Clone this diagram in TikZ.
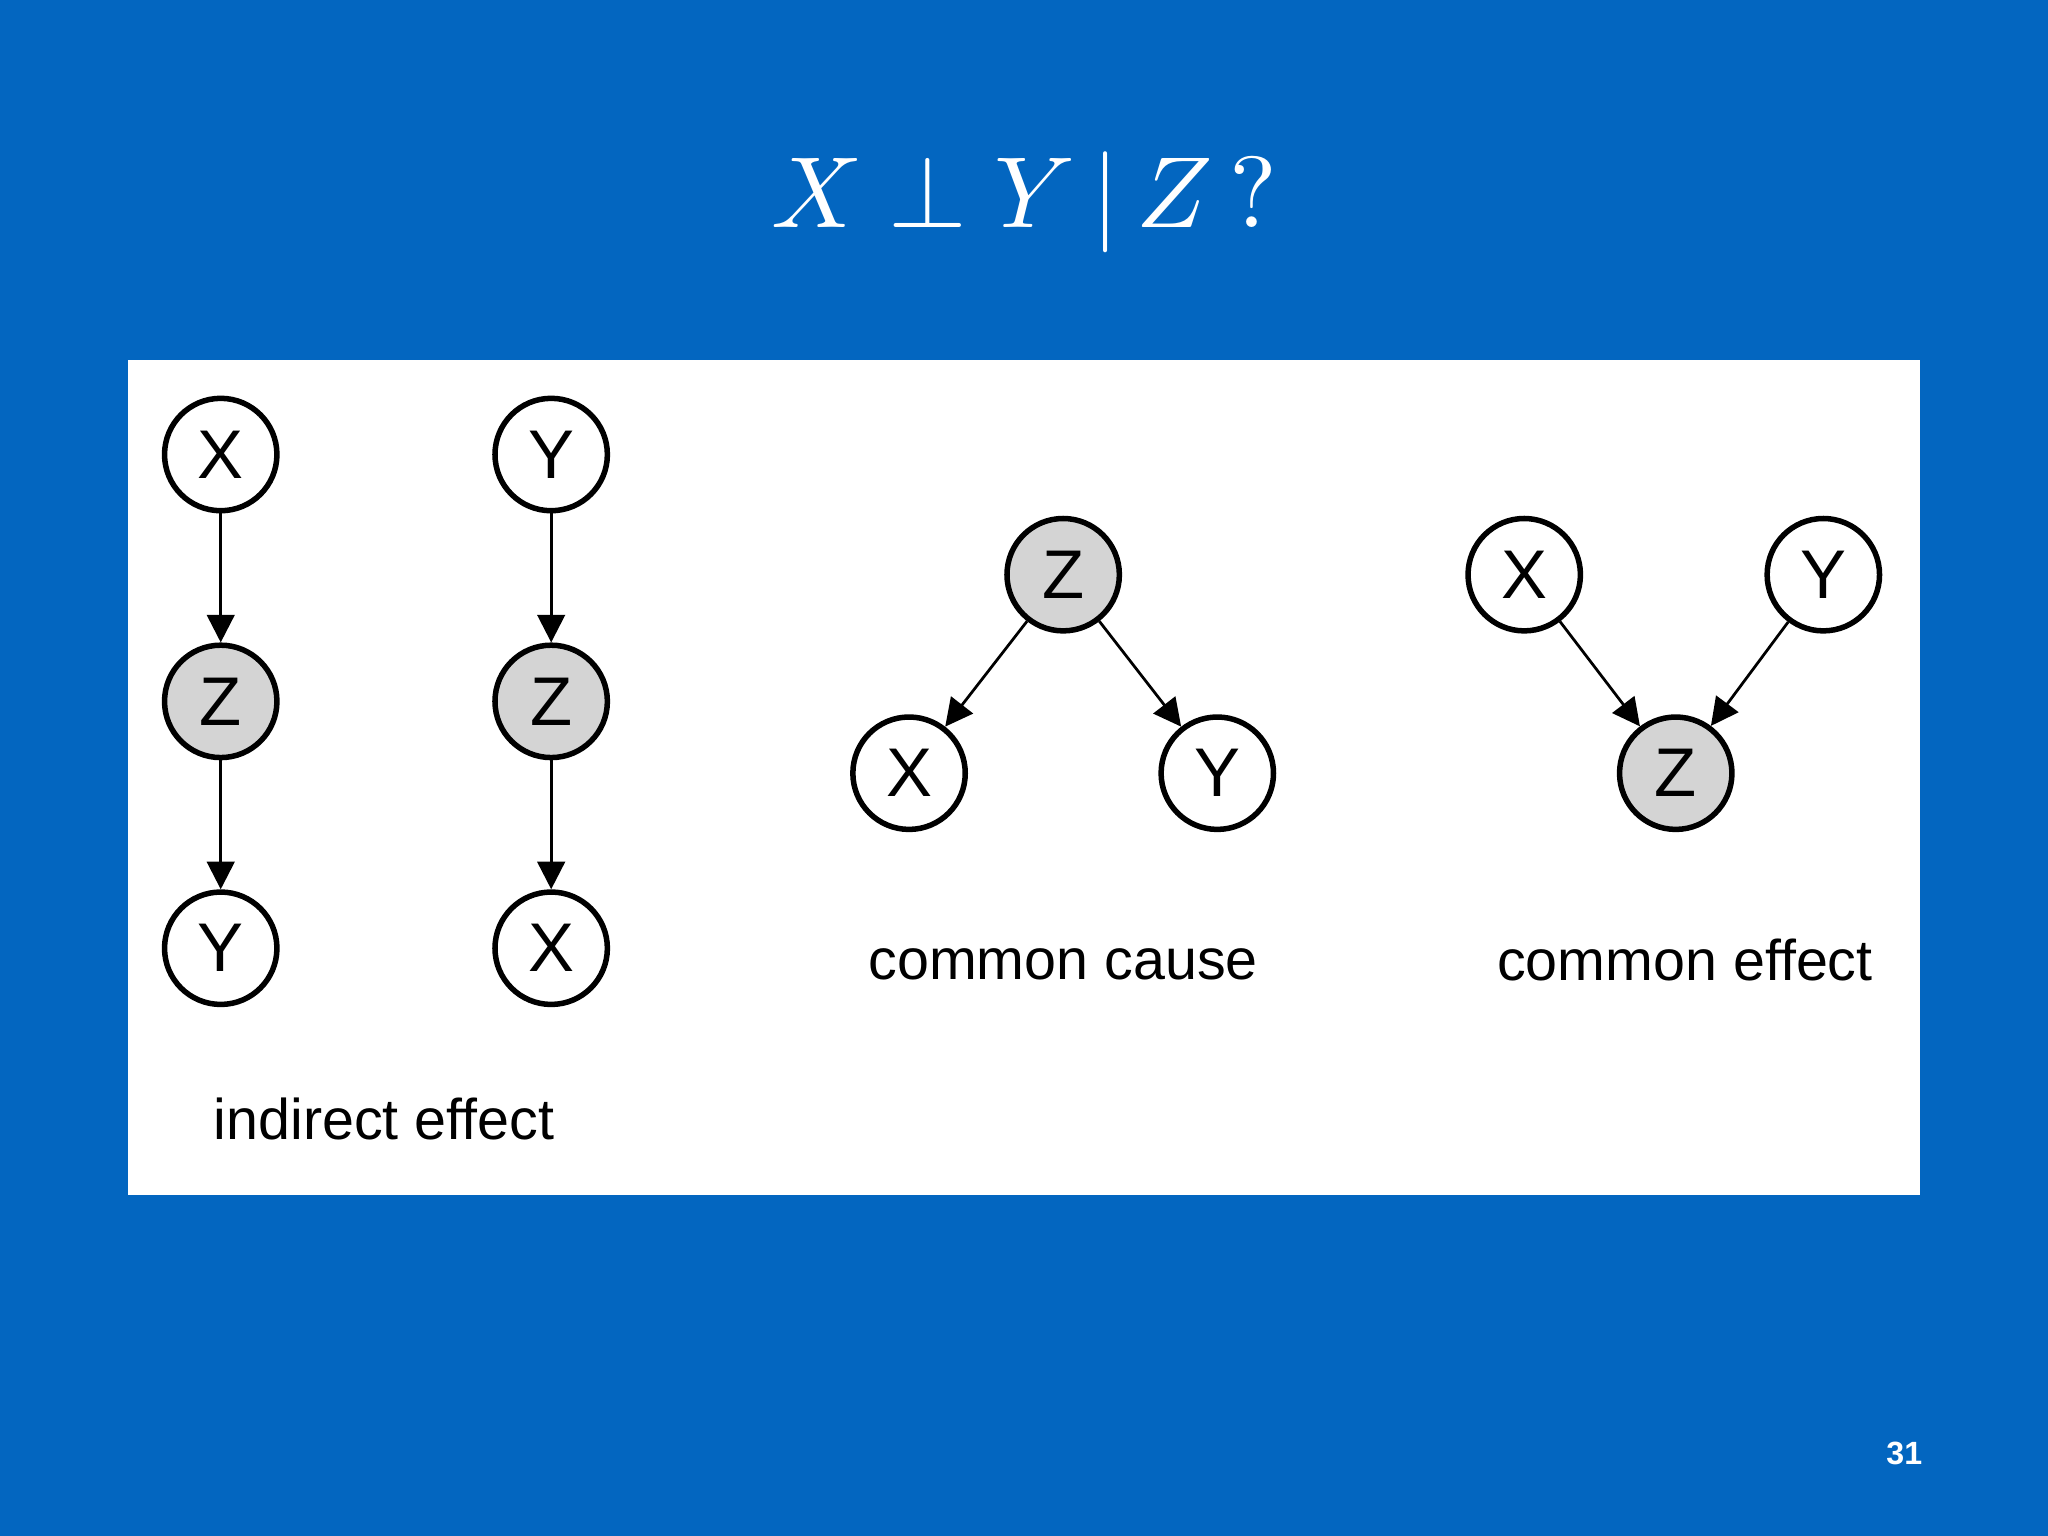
\documentclass[tikz,border=0pt]{standalone}
\usepackage{fontspec}
\setmainfont{Liberation Sans}
\usepackage{unicode-math}
\setmathfont{Latin Modern Math}
\usetikzlibrary{arrows.meta}
\definecolor{bg}{HTML}{0366C0}
\definecolor{zg}{HTML}{D4D4D4}
\tikzset{
 var/.style={circle,draw=black,line width=1.2pt,fill=white,minimum size=0.86cm,inner sep=0pt,font=\fontsize{15}{15}\selectfont},
 obs/.style={var,fill=zg},
 edge/.style={-{Triangle[length=6pt,width=6pt]},line width=0.6pt},
 lab/.style={font=\fontsize{12.5}{14}\selectfont}
}
\begin{document}
\begin{tikzpicture}[x=0.01cm,y=-0.01cm]
\fill[bg] (0,0) rectangle (1568,1176);
\useasboundingbox (0,0) rectangle (1568,1176);
\fill[white] (98,276) rectangle (1470,915);
\node[text=white,font=\fontsize{22}{22}\selectfont] (title) at (784,155) {$X \perp Y \,|\, Z\,?$};
\node[var] (x1) at (169,348) {X};
\node[obs] (z1) at (169,537) {Z};
\node[var] (y1) at (169,726) {Y};
\node[var] (y2) at (422,348) {Y};
\node[obs] (z2) at (422,537) {Z};
\node[var] (x2) at (422,726) {X};
\draw[edge] (x1)--(z1); \draw[edge] (z1)--(y1);
\draw[edge] (y2)--(z2); \draw[edge] (z2)--(x2);
\node[lab] (l1) at (294,857) {indirect effect};
\node[obs] (z3) at (814,440) {Z};
\node[var] (x3) at (696,592) {X};
\node[var] (y3) at (932,592) {Y};
\draw[edge] (z3)--(x3); \draw[edge] (z3)--(y3);
\node[lab] (l2) at (814,738) {common cause};
\node[var] (x4) at (1167,440) {X};
\node[var] (y4) at (1396,440) {Y};
\node[obs] (z4) at (1283,592) {Z};
\draw[edge] (x4)--(z4); \draw[edge] (y4)--(z4);
\node[lab] (l3) at (1290,735) {common effect};
\node[text=white,font=\bfseries\fontsize{7}{8}\selectfont] (pg) at (1458,1113) {31};
\end{tikzpicture}
\end{document}
